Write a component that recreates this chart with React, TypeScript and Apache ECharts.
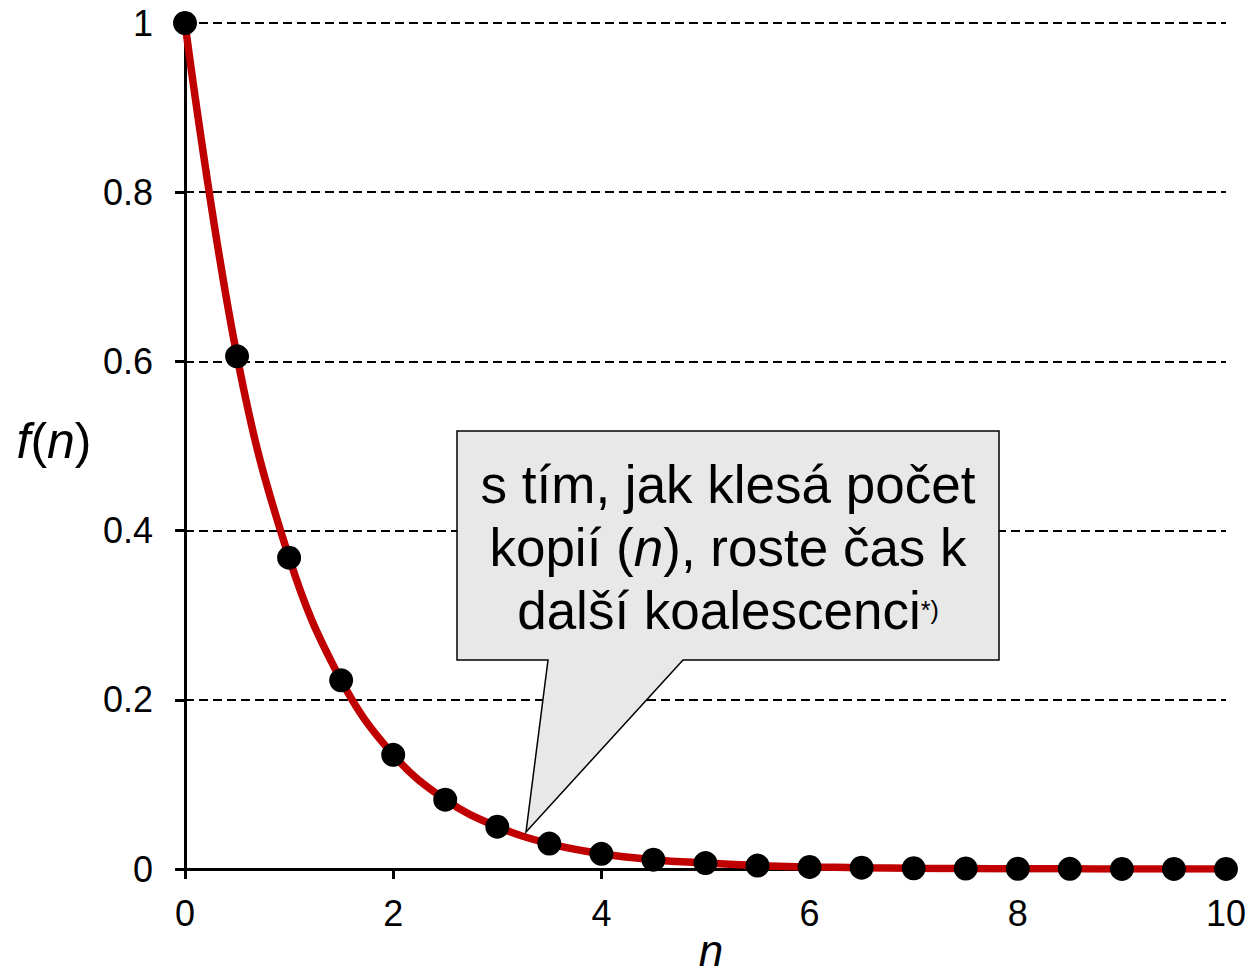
import React, { useEffect, useRef } from "react";
import * as echarts from "echarts";

const nValues = [0, 0.5, 1, 1.5, 2, 2.5, 3, 3.5, 4, 4.5, 5, 5.5, 6, 6.5, 7, 7.5, 8, 8.5, 9, 9.5, 10];
const fValues = [1, 0.606, 0.368, 0.223, 0.135, 0.082, 0.05, 0.03, 0.018, 0.011, 0.007, 0.004, 0.0025, 0.0015, 0.0009, 0.0006, 0.0003, 0.0002, 0.0001, 0.0001, 0.00005];
const xTicks = [0, 2, 4, 6, 8, 10];
const yTicks = [0, 0.2, 0.4, 0.6, 0.8, 1];
const calloutLines = ["s tím, jak klesá počet", "kopií (", "n", "), roste čas k", "další koalescenci", "*)"];

const FONT = "'Liberation Sans', Arial, sans-serif";

export default function App() {
  const ref = useRef<HTMLDivElement>(null);
  useEffect(() => {
    if (!ref.current) return;
    const chart = echarts.init(ref.current, null, { renderer: "svg" });
    const pts = nValues.map((n, i) => [n, fValues[i]]);
    chart.setOption({
      animation: false,
      backgroundColor: "#ffffff",
      grid: { left: 185, top: 23, width: 1042, height: 846, containLabel: false },
      xAxis: {
        type: "value",
        min: xTicks[0],
        max: xTicks[xTicks.length - 1],
        interval: 2,
        axisLine: { show: true, onZero: false, lineStyle: { color: "#000", width: 3 } },
        axisTick: { show: true, inside: false, length: 10, lineStyle: { color: "#000", width: 3 } },
        axisLabel: { color: "#000", fontSize: 36, fontFamily: FONT, margin: 26, showMaxLabel: true },
        splitLine: { show: false },
      },
      yAxis: {
        type: "value",
        min: yTicks[0],
        max: yTicks[yTicks.length - 1],
        interval: 0.2,
        axisLine: { show: true, onZero: false, lineStyle: { color: "#000", width: 3 } },
        axisTick: { show: true, inside: false, length: 10, lineStyle: { color: "#000", width: 3 } },
        axisLabel: {
          color: "#000",
          fontSize: 36,
          fontFamily: FONT,
          margin: 32,
          formatter: (v: number) => String(+v.toFixed(1)),
        },
        splitLine: { show: true, lineStyle: { color: "#000", width: 2, type: [9, 5] } },
      },
      series: [
        {
          type: "line",
          data: pts,
          smooth: 0.4,
          showSymbol: false,
          lineStyle: { color: "#c00000", width: 7.5 },
          z: 2,
        },
        {
          type: "scatter",
          data: pts,
          symbol: "circle",
          symbolSize: 24,
          itemStyle: { color: "#000", opacity: 1 },
          z: 3,
        },
      ],
      graphic: [
        {
          type: "polygon",
          z: 100,
          shape: {
            points: [
              [457, 431],
              [999, 431],
              [999, 660],
              [683, 660],
              [526, 832],
              [548, 660],
              [457, 660],
            ],
          },
          style: { fill: "#e8e8e8", stroke: "#000", lineWidth: 1.5 },
        },
        {
          type: "text",
          z: 101,
          x: 728,
          y: 547,
          style: {
            text:
              "{a|" + calloutLines[0] + "}\n{a|" + calloutLines[1] + "}{i|" + calloutLines[2] + "}{a|" +
              calloutLines[3] + "}\n{a|" + calloutLines[4] + "}{s|" + calloutLines[5] + "}",
            align: "center",
            verticalAlign: "middle",
            fill: "#000",
            font: "53px " + FONT,
            rich: {
              a: { fontSize: 53, fontFamily: FONT, lineHeight: 63, fill: "#000" },
              i: { fontSize: 53, fontFamily: FONT, fontStyle: "italic", lineHeight: 63, fill: "#000" },
              s: { fontSize: 25, fontFamily: FONT, lineHeight: 30, verticalAlign: "middle", fill: "#000" },
            },
          },
        },
        {
          type: "text",
          z: 101,
          x: 54,
          y: 441,
          style: {
            text: "{i|f}{a|(}{i|n}{a|)}",
            align: "center",
            verticalAlign: "middle",
            fill: "#000",
            rich: {
              a: { fontSize: 50, fontFamily: FONT, fill: "#000" },
              i: { fontSize: 50, fontFamily: FONT, fontStyle: "italic", fill: "#000" },
            },
          },
        },
        {
          type: "text",
          z: 101,
          x: 711,
          y: 950,
          style: {
            text: "n",
            align: "center",
            verticalAlign: "middle",
            fill: "#000",
            font: "italic 44px " + FONT,
          },
        },
      ],
    });
    return () => chart.dispose();
  }, []);
  return (
    <div
      ref={ref}
      style={{ position: "fixed", left: 0, top: 0, width: 1249, height: 975, background: "#fff" }}
    />
  );
}
